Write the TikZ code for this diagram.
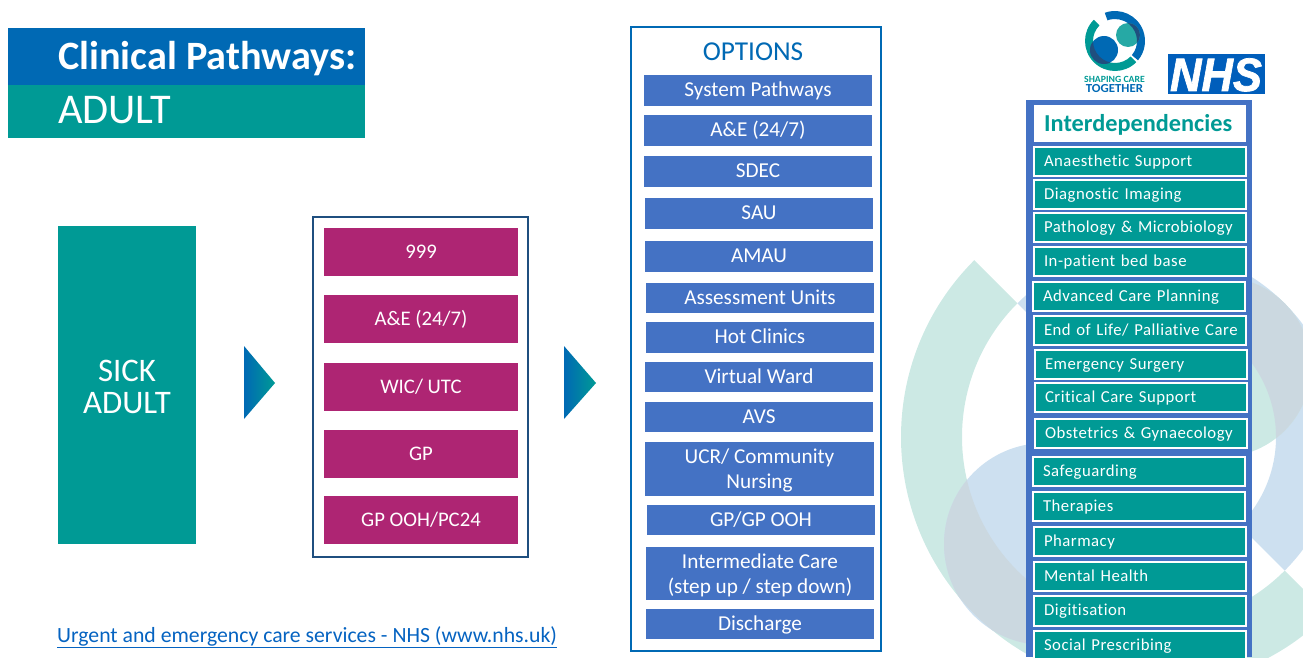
\documentclass[tikz,border=0pt]{standalone}
\usepackage{fontspec}
\setmainfont{Carlito}[Ligatures=NoCommon]
\newfontfamily\arialf{Liberation Sans}[FakeBold=1.6]
\usetikzlibrary{calc}
\definecolor{teal}{HTML}{009A95}
\definecolor{nhsblue}{HTML}{0069B4}
\definecolor{optblue}{HTML}{4472C4}
\definecolor{magent}{HTML}{AE2573}
\definecolor{ltteal}{HTML}{CCE9E4}
\definecolor{ltblue}{HTML}{CDE0F0}
\definecolor{ltgrey}{HTML}{CBD8E0}
\definecolor{logodark}{HTML}{1F4F7F}
\definecolor{linkblue}{HTML}{0563C1}
\newcommand{\fs}[1]{\fontsize{#1}{#1}\selectfont}
\newcommand{\bx}[7][]{%
  \pgfmathsetmacro{\bxw}{#5-#3}\pgfmathsetmacro{\bxh}{#6-#4}%
  \pgfmathsetmacro{\bxx}{(#3+#5)/2}\pgfmathsetmacro{\bxy}{(#4+#6)/2}%
  \node[#1,minimum width=\bxw bp,minimum height=\bxh bp] (#2) at (\bxx,\bxy) {#7};}
\newcommand{\lst}[6]{%
  \pgfmathsetmacro{\bxw}{#4-#2-1.6}\pgfmathsetmacro{\bxh}{#5-#3-1.6}%
  \pgfmathsetmacro{\bxt}{#4-#2-22}%
  \pgfmathsetmacro{\bxx}{(#2+#4)/2}\pgfmathsetmacro{\bxy}{(#3+#5)/2}%
  \node[listbox,text width=\bxt bp,minimum width=\bxw bp,minimum height=\bxh bp] (#1) at (\bxx,\bxy) {\mbox{#6}};}
\tikzset{
  optbox/.style={fill=optblue,text=white,inner sep=0pt,outer sep=0pt,align=center,font=\fs{21.3}},
  optline/.style={optbox,text height=13.5bp,text depth=1bp},
  magbox/.style={fill=magent,text=white,inner sep=0pt,outer sep=0pt,align=center,font=\fs{20.8}},
  listbox/.style={fill=teal,draw=white,line width=1.5pt,text=white,inner ysep=0pt,inner xsep=0pt,outer sep=0pt,align=left,text height=12bp,text depth=2.5bp,font=\fs{16.8}\addfontfeature{LetterSpace=3}},
  frame/.style={draw,fill=white,line width=1.1pt,inner sep=0pt,outer sep=0pt},
  flowarrow/.style={left color=nhsblue,right color=teal,shading angle=90},
}
\begin{document}
\begin{tikzpicture}[x=1bp,y=-1bp]
\useasboundingbox (0,0) rectangle (1303,657);
% watermark rings and discs
\begin{scope}
  \clip (0,0) rectangle (1303,657);
  \def\tealring{(1151,437) ++(-135:250) arc[start angle=-135,end angle=-315,radius=250] -- ++(-135:61) arc[start angle=-315,end angle=-135,radius=189] -- cycle}
  \def\bluering{(1151,437) ++(-135:189) arc[start angle=-135,end angle=45,radius=189] -- ++(-135:64) arc[start angle=45,end angle=-135,radius=125] -- cycle}
  \fill[ltteal] \tealring;
  \fill[ltblue] \bluering;
  \fill[ltblue] (1045,544) circle[radius=101];
  \fill[ltteal] (1221,367) circle[radius=90];
  \begin{scope}\clip \tealring; \fill[ltgrey] (1045,544) circle[radius=101]; \end{scope}
  \begin{scope}\clip \bluering; \fill[ltgrey] (1221,367) circle[radius=90]; \end{scope}
\end{scope}
% title block
\bx[fill=nhsblue,inner sep=0pt,outer sep=0pt]{titleA}{8}{28}{365}{85}{}
\bx[fill=teal,inner sep=0pt,outer sep=0pt]{titleB}{8}{85}{365}{138}{}
\node[anchor=base west,inner sep=0pt,text=white,font=\fs{40.4}\bfseries] (titleAt) at (58,69.5) {Clinical Pathways:};
\node[anchor=base west,inner sep=0pt,text=white,font=\fs{42.5}] (titleBt) at (58,124) {ADULT};
% sick adult
\bx[fill=teal,text=white,inner sep=0pt,outer sep=0pt,align=center,font=\fs{33}]{sick}{58}{226}{196}{544}{\rule{0pt}{26bp}SICK\\[-1pt]ADULT}
% arrows
\shade[flowarrow] (244,346) -- (275,383) -- (244,419) -- cycle;
\shade[flowarrow] (564,346) -- (596,383) -- (564,419) -- cycle;
% access panel
\bx[frame,draw=logodark]{access}{313}{217}{528}{557}{}
\bx[magbox]{a1}{324}{228}{518}{276}{999}
\bx[magbox]{a2}{324}{295}{518}{343}{A\&E (24/7)}
\bx[magbox]{a3}{324}{363}{518}{411}{WIC/ UTC}
\bx[magbox]{a4}{324}{430}{518}{478}{GP}
\bx[magbox]{a5}{324}{496}{518}{544}{GP OOH/PC24}
% options panel
\bx[frame,draw=nhsblue]{options}{631}{27}{881}{651}{}
\node[text=nhsblue,inner sep=0pt,font=\fs{27.4}] (optt) at (753,52) {OPTIONS};
\bx[optline]{o1}{644}{75}{872}{106}{System Pathways}
\bx[optline]{o2}{644}{115}{872}{146}{A\&E (24/7)}
\bx[optline]{o3}{644}{156}{872}{187}{SDEC}
\bx[optline]{o4}{645}{198}{873}{229}{SAU}
\bx[optline]{o5}{645}{241}{873}{272}{AMAU}
\bx[optline]{o6}{646}{283}{874}{313}{Assessment Units}
\bx[optline]{o7}{646}{322}{874}{353}{Hot Clinics}
\bx[optline]{o8}{645}{362}{873}{392}{Virtual Ward}
\bx[optline]{o9}{645}{402}{873}{432}{AVS}
\bx[optbox]{o10}{645}{442}{874}{496}{\rule{0pt}{18bp}UCR/ Community\\[3.2pt]Nursing}
\bx[optline]{o11}{647}{505}{875}{535}{GP/GP OOH}
\bx[optbox]{o12}{646}{547}{874}{600}{\rule{0pt}{18bp}Intermediate Care\\[3.2pt](step up / step down)}
\bx[optline]{o13}{646}{609}{874}{639}{Discharge}
% link
\node[anchor=base west,inner sep=0pt,text=linkblue,font=\fs{21.8}] (link) at (57,642) {\underline{Urgent and emergency care services - NHS (www.nhs.uk)}};
% logo
\begin{scope}
  \def\logoT{(1115,41) ++(-135:30) arc[start angle=-135,end angle=-315,radius=30] -- ++(-135:8) arc[start angle=-315,end angle=-135,radius=22] -- cycle}
  \fill[teal] \logoT;
  \fill[nhsblue] (1115,41) ++(-110:30) arc[start angle=-110,end angle=40,radius=30] -- ++(-140:8) arc[start angle=40,end angle=-110,radius=22] -- cycle;
  \fill[nhsblue] (1104,50) circle[radius=14];
  \fill[teal!85!white] (1128,35) circle[radius=12];
  \begin{scope}\clip \logoT; \fill[logodark] (1104,50) circle[radius=14]; \end{scope}
  \begin{scope}\clip (1128,35) circle[radius=12]; \fill[logodark] (1115,41) ++(-110:30) arc[start angle=-110,end angle=40,radius=30] -- ++(-140:8) arc[start angle=40,end angle=-110,radius=22] -- cycle; \end{scope}
\end{scope}
\node[anchor=base,inner sep=0pt,text=teal,xscale=1.03,font=\fs{9.5}\bfseries] (lg1) at (1114.5,82.5) {SHAPING CARE};
\node[anchor=base,inner sep=0pt,text=nhsblue,xscale=1.05,font=\fs{12.3}\bfseries] (lg2) at (1114.5,92.5) {TOGETHER};
\bx[fill=nhsblue!90!blue,inner sep=0pt,outer sep=0pt]{nhsbox}{1168}{54}{1265}{94}{}
\node[inner sep=0pt,text=white,xscale=.93,anchor=base,font=\arialf\bfseries\itshape\fs{47}] (nhst) at (1216,91) {NHS};
% interdependencies
\bx[fill=optblue,inner sep=0pt,outer sep=0pt]{inter}{1026}{100}{1252}{657}{}
\bx[fill=white,inner sep=0pt,outer sep=0pt]{intert}{1034}{105}{1246}{142}{}
\node[anchor=base west,inner sep=0pt,text=teal,font=\fs{24.4}\bfseries] (intertx) at (1044,131) {Interdependencies};
\lst{l1}{1033}{146}{1247}{177}{Anaesthetic Support}
\lst{l2}{1033}{179}{1247}{210}{Diagnostic Imaging}
\lst{l3}{1033}{212}{1247}{243}{Pathology \& Microbiology}
\lst{l4}{1033}{246}{1247}{277}{In-patient bed base}
\lst{l5}{1032}{281}{1246}{312}{Advanced Care Planning}
\lst{l6}{1033}{315}{1247}{346}{End of Life/ Palliative Care}
\lst{l7}{1034}{349}{1248}{380}{Emergency Surgery}
\lst{l8}{1034}{382}{1248}{413}{Critical Care Support}
\lst{l9}{1034}{418}{1248}{449}{Obstetrics \& Gynaecology}
\lst{l10}{1032}{456}{1246}{487}{Safeguarding}
\lst{l11}{1032}{491}{1246}{522}{Therapies}
\lst{l12}{1033}{526}{1247}{557}{Pharmacy}
\lst{l13}{1033}{561}{1247}{592}{Mental Health}
\lst{l14}{1033}{595}{1247}{627}{Digitisation}
\begin{scope}
  \clip (0,0) rectangle (1303,657);
  \lst{l15}{1033}{630}{1247}{661}{Social Prescribing}
\end{scope}
\end{tikzpicture}
\end{document}
